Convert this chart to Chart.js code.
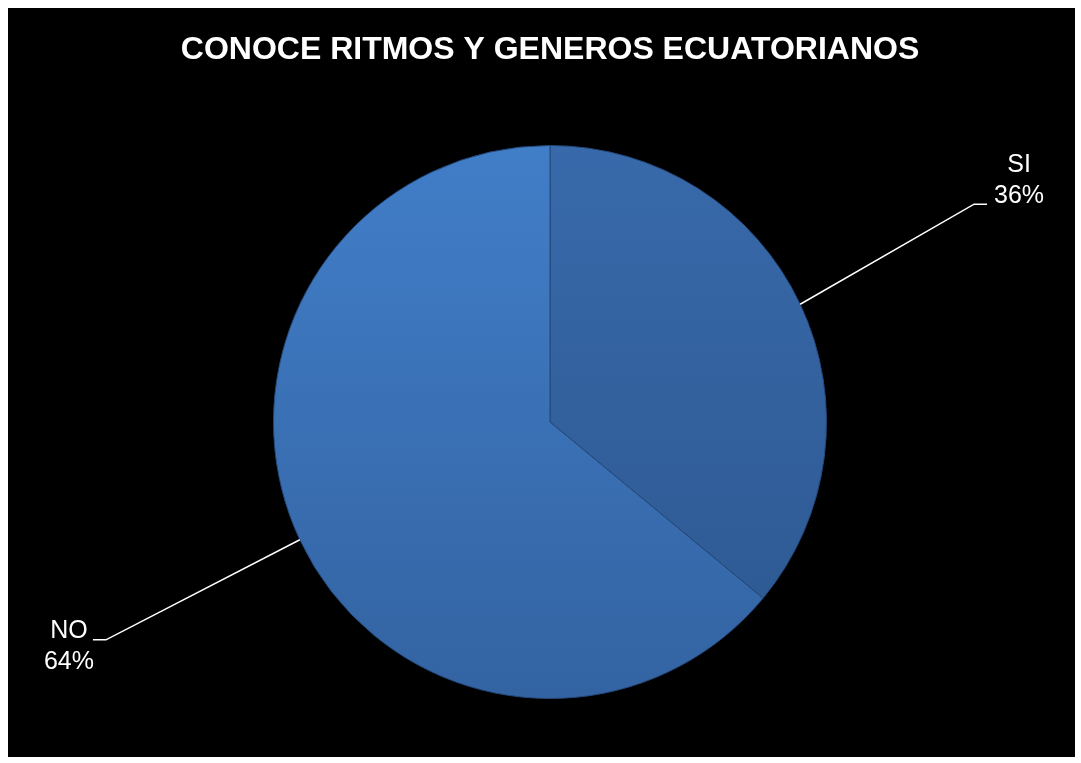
<!DOCTYPE html>
<html><head><meta charset="utf-8">
<script src="https://cdn.jsdelivr.net/npm/chart.js@4"></script>
<style>html,body{margin:0;padding:0;background:#fff;}#wrap{position:absolute;left:0;top:0;width:1081px;height:763px;}</style>
</head><body><div id="wrap"><canvas id="c" width="1081" height="763"></canvas></div>
<script>
const title = 'CONOCE RITMOS Y GENEROS ECUATORIANOS';
const categories = ['SI', 'NO'];
const values = [36, 64];
const percentLabels = ['36%', '64%'];
const topColors = ['#3869aa', '#417ec8'];
const bottomColors = ['#2d5890', '#3363a2'];

const bgPlugin = {
  id: 'bg',
  beforeDraw(chart) {
    const ctx = chart.ctx;
    ctx.save();
    ctx.fillStyle = '#ffffff';
    ctx.fillRect(0, 0, chart.width, chart.height);
    ctx.fillStyle = '#000000';
    ctx.fillRect(8, 8, chart.width - 14, chart.height - 14);
    ctx.restore();
  }
};

const labelPlugin = {
  id: 'leaders',
  afterDatasetsDraw(chart) {
    const ctx = chart.ctx;
    const meta = chart.getDatasetMeta(0);
    ctx.save();
    meta.data.forEach((arc, i) => {
      const p = arc.getProps(['x', 'y', 'startAngle', 'endAngle', 'outerRadius'], true);
      const mid = (p.startAngle + p.endAngle) / 2;
      const cs = Math.cos(mid), sn = Math.sin(mid);
      const r = p.outerRadius;
      const x0 = p.x + cs * r, y0 = p.y + sn * r;
      const ex = p.x + cs * r * 1.735 - 10, ey = p.y + sn * r * 1.85;
      const side = cs >= 0 ? 1 : -1;
      const tx = ex + side * 13;
      ctx.strokeStyle = '#ffffff';
      ctx.lineWidth = 1.5;
      ctx.beginPath();
      ctx.moveTo(x0, y0);
      ctx.lineTo(ex, ey);
      ctx.lineTo(tx, ey);
      ctx.stroke();
      ctx.fillStyle = '#ffffff';
      ctx.font = '25px "Liberation Sans", Arial, sans-serif';
      ctx.textAlign = 'center';
      ctx.textBaseline = 'middle';
      let cx, l1y, l2y;
      if (side > 0) {
        cx = tx + 32; l1y = ey - 39; l2y = ey - 8;
      } else {
        cx = tx - 24; l1y = ey - 9; l2y = ey + 22;
      }
      ctx.fillText(categories[i], cx, l1y);
      ctx.fillText(percentLabels[i], cx, l2y);
    });
    ctx.restore();
  }
};

function grad(ctx, i) {
  const chart = ctx.chart;
  const a = chart.chartArea;
  if (!a) return topColors[i];
  const g = chart.ctx.createLinearGradient(0, a.top, 0, a.bottom);
  g.addColorStop(0, topColors[i]);
  g.addColorStop(1, bottomColors[i]);
  return g;
}

new Chart(document.getElementById('c'), {
  type: 'pie',
  data: {
    labels: categories,
    datasets: [{
      data: values,
      backgroundColor: (ctx) => grad(ctx, ctx.dataIndex),
      borderColor: '#24487a',
      borderWidth: 1
    }]
  },
  options: {
    responsive: false,
    animation: false,
    layout: { padding: { left: 19, right: 0, top: 0, bottom: 64 } },
    plugins: {
      legend: { display: false },
      tooltip: { enabled: false },
      title: {
        display: true,
        text: title,
        color: '#ffffff',
        font: { family: '"Liberation Sans", Arial, sans-serif', size: 32, weight: 'bold', lineHeight: 1.2 },
        padding: { top: 31, bottom: 75.6 }
      }
    }
  },
  plugins: [bgPlugin, labelPlugin]
});
</script></body></html>
